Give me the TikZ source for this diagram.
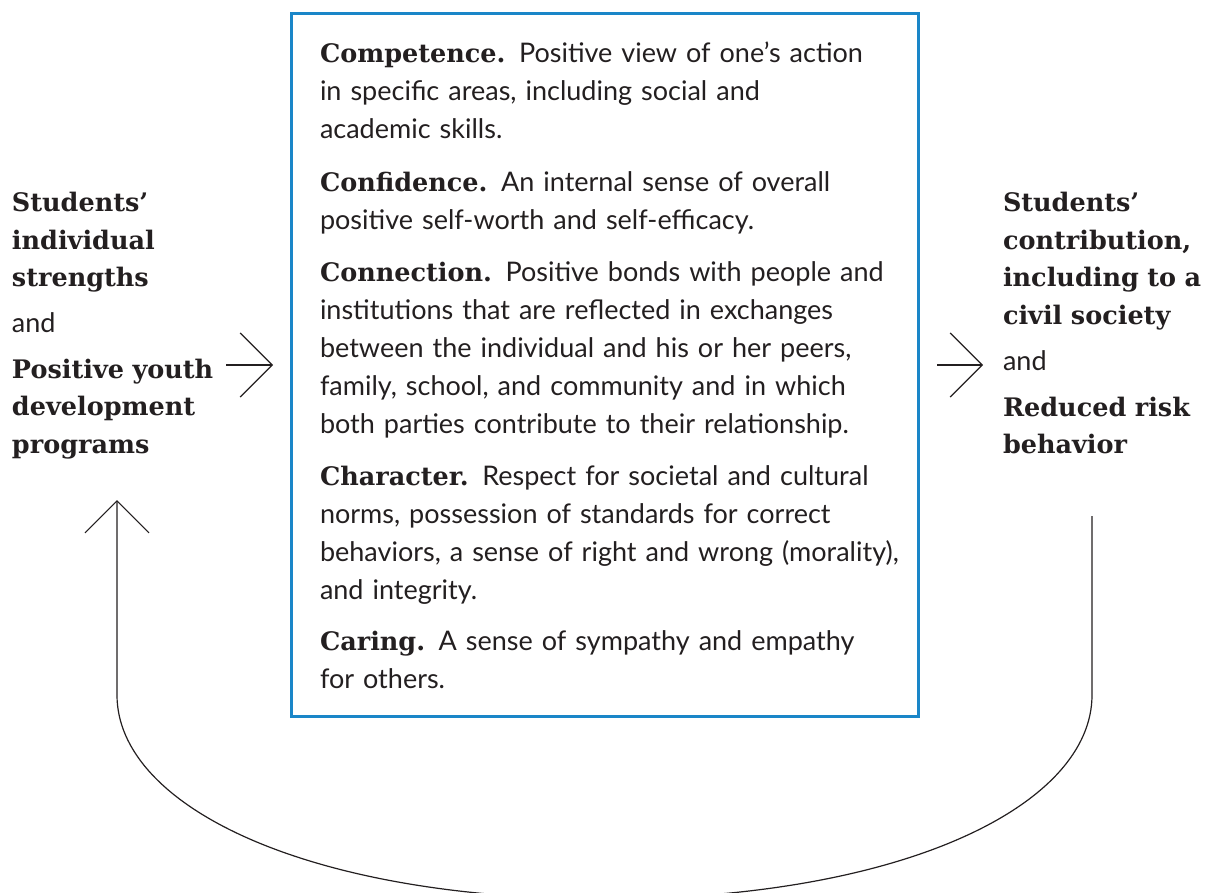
\documentclass[tikz,border=0pt]{standalone}
\usepackage{fontspec}
\setmainfont{Lato}
\newfontfamily\headfont{DejaVu Serif}
\usetikzlibrary{arrows.meta}
\definecolor{boxblue}{HTML}{1A86C8}
\definecolor{ink}{HTML}{231F20}
\newcommand{\hd}[1]{{\headfont\bfseries\fontsize{25.5}{25.5}\selectfont #1}}
\tikzset{
  para/.style={anchor=base west, inner sep=0pt, outer sep=0pt, text width=600pt, align=left,
    text=ink, font=\fontsize{27}{38}\selectfont},
  side/.style={anchor=base west, inner sep=0pt, outer sep=0pt, text width=220pt, align=left,
    text=ink, font=\headfont\bfseries\fontsize{25.5}{37.5}\selectfont},
  sideand/.style={anchor=base west, inner sep=0pt, outer sep=0pt, text=ink, font=\fontsize{27}{27}\selectfont},
  arr/.style={draw=ink, line width=1.2pt, -{Straight Barb[length=32pt, width=64pt, line width=1.2pt]}},
}
\begin{document}
\begin{tikzpicture}[x=1pt, y=-1pt]
\useasboundingbox (0,0) rectangle (1209,893);
\clip (0,0) rectangle (1209,893);
% central box
\node[draw=boxblue, line width=3pt, minimum width=627pt, minimum height=703pt, anchor=north west, inner sep=0pt] (box) at (290,12) {};
% paragraphs
\node[para] (p1) at (320,63) {\hd{Competence.} Positive view of one’s action\\in specific areas, including social and\\academic skills.};
\node[para] (p2) at (320,192) {\hd{Confidence.} An internal sense of overall\\positive self-worth and self-efficacy.};
\node[para] (p3) at (320,281) {\hd{Connection.} Positive bonds with people and\\institutions that are reflected in exchanges\\between the individual and his or her peers,\\family, school, and community and in which\\both parties contribute to their relationship.};
\node[para] (p4) at (320,485) {\hd{Character.} Respect for societal and cultural\\norms, possession of standards for correct\\behaviors, a sense of right and wrong (morality),\\and integrity.};
\node[para] (p5) at (320,650) {\hd{Caring.} A sense of sympathy and empathy\\for others.};
% left side
\node[side] (l1) at (12,212) {Students’\\individual\\strengths};
\node[sideand] (land) at (12,332) {and};
\node[side] (l2) at (12,378) {Positive youth\\development\\programs};
% right side
\node[side] (r1) at (1003,212) {Students’\\contribution,\\including to a\\civil society};
\node[sideand] (rand) at (1003,370) {and};
\node[side] (r2) at (1003,416) {Reduced risk\\behavior};
% arrows
\coordinate (la1) at (226,365);
\coordinate (la2) at (273,365);
\coordinate (ra1) at (937,365);
\coordinate (ra2) at (983,365);
\draw[arr] (la1) -- (la2);
\draw[arr] (ra1) -- (ra2);
% feedback loop
\coordinate (ls) at (1092,516);
\coordinate (lr) at (1092,695);
\coordinate (lb) at (604,899);
\coordinate (ll) at (117,695);
\coordinate (le) at (117,500);
\draw[arr] (ls) -- (lr) .. controls (1092,805) and (904,899) .. (lb)
  .. controls (304,899) and (117,805) .. (ll) -- (le);
\end{tikzpicture}
\end{document}
